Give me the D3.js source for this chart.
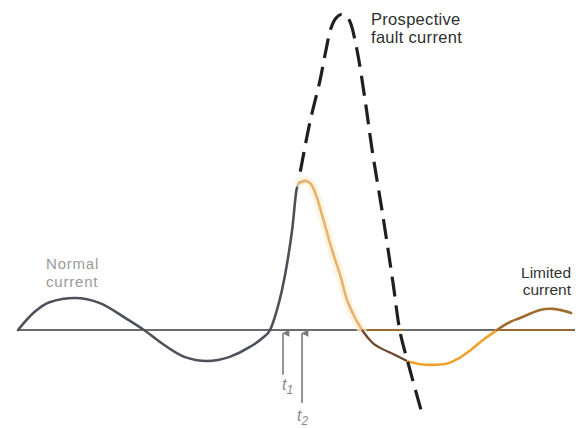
<!DOCTYPE html>
<html>
<head>
<meta charset="utf-8">
<script src="https://cdn.jsdelivr.net/npm/d3@7"></script>
<style>
  html, body { margin: 0; padding: 0; background: #fff; }
  svg { display: block; }
</style>
</head>
<body>
<svg id="chart" width="582" height="428"></svg>
<script>
// Time in ms, current in per-unit of the normal peak current.
const normalT = [0, 1.3, 2.5, 4.5, 6.5, 8.5, 10, 11.6, 13.2, 15, 16.8, 18.4, 19.4, 20, 20.5, 20.95, 21.4, 21.8, 22.1, 22.3];
const normalI = [0, 0.56, 0.87, 1.0, 0.84, 0.38, 0, -0.47, -0.84, -0.97, -0.84, -0.53, -0.25, 0, 0.56, 1.25, 2.19, 3.28, 4.38, 4.6];

const prospectiveT = [22.4, 23.17, 23.97, 24.44, 24.84, 25.24, 25.63, 26.03, 26.35, 26.9, 27.54, 28.1, 28.97, 29.76, 30.32, 30.95, 32.14];
const prospectiveI = [4.95, 6.5, 7.81, 8.75, 9.44, 9.75, 9.86, 9.81, 9.63, 8.75, 7.19, 5.63, 3.53, 1.47, -0.06, -1.03, -2.72];

const cutoffT = [22.3, 22.86, 23.25, 23.65, 24.13, 24.92, 25.56, 26.11, 26.75, 27.3];
const cutoffI = [4.6, 4.66, 4.56, 4.22, 3.59, 2.5, 1.72, 0.94, 0.375, 0];

const dipT = [27.3, 27.78, 28.25, 28.89, 29.76, 30.87];
const dipI = [0, -0.25, -0.44, -0.59, -0.75, -0.97];

const recoveryT = [30.87, 31.8, 32.7, 33.9, 34.9, 36.0, 37.0, 37.7, 38.0];
const recoveryI = [-0.98, -1.06, -1.09, -1.06, -0.9, -0.6, -0.28, -0.09, 0];

const limitedT = [38.0, 39.05, 39.84, 41.43, 42.46, 43.41, 43.89];
const limitedI = [0, 0.25, 0.375, 0.625, 0.66, 0.59, 0.53];

const markerTimes = [21.03, 22.54];
const markerTails = [-1.4, -2.28];
const markerSubs = ["1", "2"];

const svg = d3.select("#chart");

const x = d3.scaleLinear().domain([0, 44.2]).range([18, 575]);
const y = d3.scaleLinear().domain([-3, 10]).range([426, 10]);

const zip = (ts, is) => ts.map((t, k) => [t, is[k]]);
const line = d3.line().x(d => x(d[0])).y(d => y(d[1])).curve(d3.curveMonotoneX);
const lineFree = d3.line().x(d => x(d[0])).y(d => y(d[1])).curve(d3.curveCatmullRom.alpha(0.5));

// zero axis
svg.append("line")
  .attr("x1", x(0)).attr("x2", x(44.2))
  .attr("y1", y(0)).attr("y2", y(0))
  .attr("stroke", "#3a3a3a").attr("stroke-width", 1.6);

// limited-current segments lying on the axis
[[27.3, 30.7], [38.0, 43.95]].forEach(([a, b]) => {
  svg.append("line")
    .attr("x1", x(a)).attr("x2", x(b))
    .attr("y1", y(0)).attr("y2", y(0))
    .attr("stroke", "#9a6a32").attr("stroke-width", 2.2);
});

// normal current rising into the fault
svg.append("path")
  .attr("d", line(zip(normalT, normalI)))
  .attr("fill", "none").attr("stroke", "#4d5159").attr("stroke-width", 2.6)
  .attr("stroke-linecap", "round");

// cut-off current with its soft glow
const cutoff = zip(cutoffT, cutoffI);
svg.append("path")
  .attr("d", lineFree(cutoff))
  .attr("fill", "none").attr("stroke", "#fdf0d6").attr("stroke-width", 9)
  .attr("stroke-linecap", "round").attr("opacity", 0.7);
svg.append("path")
  .attr("d", lineFree(cutoff))
  .attr("fill", "none").attr("stroke", "#e8b26e").attr("stroke-width", 2.6)
  .attr("stroke-linecap", "round");

// dip below the axis
svg.append("path")
  .attr("d", lineFree(zip(dipT, dipI)))
  .attr("fill", "none").attr("stroke", "#6e4528").attr("stroke-width", 2.2);

// recovery half-wave
svg.append("path")
  .attr("d", line(zip(recoveryT, recoveryI)))
  .attr("fill", "none").attr("stroke", "#f0a02c").attr("stroke-width", 2.6);

// limited current
svg.append("path")
  .attr("d", lineFree(zip(limitedT, limitedI)))
  .attr("fill", "none").attr("stroke", "#9e6c2e").attr("stroke-width", 2.6)
  .attr("stroke-linecap", "round");

// prospective fault current
svg.append("path")
  .attr("d", lineFree(zip(prospectiveT, prospectiveI)))
  .attr("fill", "none").attr("stroke", "#1f1f1f").attr("stroke-width", 3.2)
  .attr("stroke-dasharray", "20,9");

// time markers
const defs = svg.append("defs");
defs.append("marker")
  .attr("id", "tip").attr("viewBox", "0 0 10 10")
  .attr("refX", 5).attr("refY", 1)
  .attr("markerWidth", 7).attr("markerHeight", 8)
  .attr("markerUnits", "userSpaceOnUse")
  .attr("orient", "auto-start-reverse")
  .append("path").attr("d", "M0,10 L5,0 L10,10 Z").attr("fill", "#7a7a7a");

markerTimes.forEach((t, k) => {
  svg.append("line")
    .attr("x1", x(t)).attr("x2", x(t))
    .attr("y1", y(markerTails[k])).attr("y2", y(-0.1))
    .attr("stroke", "#7a7a7a").attr("stroke-width", 1.6)
    .attr("marker-end", "url(#tip)");
});

const tl = svg.append("g").attr("font-family", "Liberation Sans, Arial, sans-serif")
  .attr("fill", "#8a8a8a");
[[x(markerTimes[0]) - 1, 390], [x(markerTimes[1]) - 5, 421]].forEach(([px, py], k) => {
  const t = tl.append("text").attr("x", px).attr("y", py)
    .attr("font-size", 16).attr("font-style", "italic");
  t.append("tspan").text("t");
  t.append("tspan").attr("dy", 4).attr("font-size", 12).text(markerSubs[k]);
});

// labels
const label = (lines, px, py, opts) => {
  const t = svg.append("text")
    .attr("font-family", "Liberation Sans, Arial, sans-serif")
    .attr("font-size", opts.size).attr("fill", opts.color)
    .attr("text-anchor", opts.anchor || "start")
    .attr("letter-spacing", opts.spacing || 0);
  lines.forEach((s, k) => {
    t.append("tspan").attr("x", px).attr("y", py + k * opts.lead).text(s);
  });
};

label(["Prospective", "fault current"], 371, 25, { size: 16.5, color: "#2f2f2f", lead: 17.5, spacing: 0.3 });
label(["Limited", "current"], 571, 278, { size: 15.5, color: "#333", lead: 16.5, anchor: "end" });
label(["Normal", "current"], 46, 269, { size: 15, color: "#9a9a9a", lead: 17.5, spacing: 0.8 });
</script>
</body>
</html>
